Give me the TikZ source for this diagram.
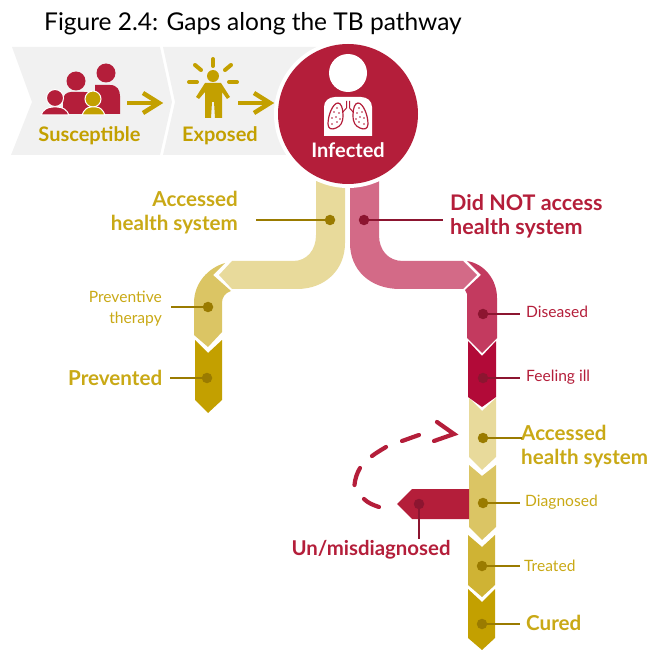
\documentclass[tikz,border=0pt]{standalone}
\usepackage{fontspec}
\setmainfont{Lato}
\definecolor{gold}{HTML}{C3A000}
\definecolor{golddk}{HTML}{9A7B00}
\definecolor{txtgold}{HTML}{C9A916}
\definecolor{pale}{HTML}{E8DA9B}
\definecolor{midgold}{HTML}{DBC564}
\definecolor{treatgold}{HTML}{CFB334}
\definecolor{rd}{HTML}{B41E3A}
\definecolor{rddk}{HTML}{8C1530}
\definecolor{pink}{HTML}{D36A87}
\definecolor{dis}{HTML}{C33A5F}
\definecolor{ill}{HTML}{B20A38}
\definecolor{chev}{HTML}{F1F1F1}
\tikzset{
  dotg/.style={circle,fill=golddk,inner sep=0pt,minimum size=10.5pt},
  dotr/.style={circle,fill=rddk,inner sep=0pt,minimum size=10.5pt},
  leadg/.style={draw=golddk,line width=2pt},
  leadr/.style={draw=rddk,line width=2pt},
  goldb/.style={text=txtgold,font=\fontsize{20.6}{24}\selectfont\bfseries,inner sep=0pt},
  redb/.style={text=rd,font=\fontsize{20.4}{24}\selectfont\bfseries,inner sep=0pt},
  goldt/.style={text=txtgold,font=\fontsize{15.6}{21}\selectfont,inner sep=0pt},
  redt/.style={text=rd,font=\fontsize{15.6}{21}\selectfont,inner sep=0pt},
  garrow/.style={draw=gold,line width=4.5pt},
  ray/.style={draw=gold,line width=4pt,line cap=round},
  dashret/.style={draw=rd,line width=4.2pt,line cap=round},
}
\begin{document}
\begin{tikzpicture}[x=1pt,y=-1pt]
\useasboundingbox (0,0) rectangle (657,650);
% title
\node[inner sep=0pt,anchor=west,font=\fontsize{24.5}{28}\selectfont] (title) at (44,24) {Figure 2.4: Gaps along the TB pathway};
% chevrons
\fill[chev] (12,47) -- (160,47) -- (172,102) -- (160,155) -- (11,155) -- (32,102) -- cycle;
\fill[chev] (163,47) -- (320,47) -- (320,155) -- (163,155) -- (175,102) -- cycle;
% family icon
\fill[rd] (106,73) circle (9.5);
\fill[rd] (95,85) -- (110,85) .. controls (117,85) and (120,90) .. (120,96) -- (120,114) -- (95,114) -- cycle;
\fill[rd] (76,81) circle (9.5);
\fill[rd] (63,114) -- (63,100) .. controls (63,95) and (67,92) .. (71,92) -- (84,92) .. controls (92,92) and (96,97) .. (96,104) -- (96,114) -- cycle;
\fill[rd,draw=white,line width=1pt] (55,98) circle (8.5);
\fill[rd,draw=white,line width=1pt] (41,115) .. controls (43,110) and (47,107) .. (53,107) -- (57,107) .. controls (63,107) and (67,110) .. (69,115) -- cycle;
\fill[gold,draw=white,line width=1pt] (93,99) circle (8);
\fill[gold,draw=white,line width=1pt] (82,115) .. controls (84,110) and (87,107) .. (91,107) -- (96,107) .. controls (100,107) and (103,110) .. (105,115) -- cycle;
\draw[garrow] (127,103) -- (159,103);
\draw[garrow] (143,93) -- (159,103) -- (143,113);
% exposed icon
\fill[gold] (213,76) circle (6);
\fill[gold] (205,83) -- (221,83) -- (230,97) -- (227,99) -- (222,92) -- (222,118) -- (215,118) -- (214,102) -- (212,102) -- (211,118) -- (205,118) -- (205,92) -- (199,99) -- (196,97) -- cycle;
\draw[ray] (213,59) -- (213,66);
\draw[ray] (195,65) -- (201,70);
\draw[ray] (231,65) -- (225,70);
\draw[ray] (189,82) -- (197,82);
\draw[ray] (229,82) -- (237,82);
\draw[garrow] (238,103) -- (270,103);
\draw[garrow] (254,93) -- (270,103) -- (254,113);
\node[goldb,text=gold,anchor=center,font=\fontsize{20}{24}\selectfont\bfseries] (susc) at (89.5,136) {Susceptible};
\node[goldb,text=gold,anchor=center,font=\fontsize{20}{24}\selectfont\bfseries] (expo) at (220,135.5) {Exposed};
% left branch
\fill[pale] (316,170) -- (345,170) -- (345,243) .. controls (345,270) and (325,289) .. (297,289) -- (232,289) -- (219,275) -- (232,261) -- (293,261) .. controls (307,261) and (316,250) .. (316,235) -- cycle;
\fill[midgold] (225,263) -- (213,275) -- (231,291) .. controls (225,293) and (222,297) .. (222,303) -- (222,332) -- (208,347) -- (194,335) -- (194,303) .. controls (194,283) and (208,268) .. (225,263) -- cycle;
\fill[gold] (195,340) -- (208,353) -- (222,340) -- (222,400) -- (208,413) -- (195,400) -- cycle;
% right branch
\fill[pink] (350,170) -- (379,170) -- (379,235) .. controls (379,250) and (388,261) .. (403,261) -- (463,261) -- (477,275) -- (463,289) -- (400,289) .. controls (370,289) and (350,270) .. (350,243) -- cycle;
\fill[dis] (467,261) .. controls (485,264) and (497,280) .. (497,298) -- (497,338) -- (482,353) -- (467,338) -- (467,294) -- (465,290) -- (481,275) -- cycle;
\fill[ill] (468,341) -- (482,356) -- (496,341) -- (496,397) -- (482,407) -- (468,397) -- cycle;
\fill[pale] (469,398) -- (482,411) -- (496,398) -- (496,457) -- (482,470) -- (469,457) -- cycle;
\fill[midgold] (469,465) -- (482,476) -- (496,465) -- (496,527) -- (482,540) -- (469,527) -- cycle;
\fill[treatgold] (468,535) -- (482,547) -- (495,535) -- (495,585) -- (482,597) -- (468,585) -- cycle;
\fill[gold] (468,589) -- (482,602) -- (495,589) -- (495,638) -- (482,650) -- (468,638) -- cycle;
% misdiagnosed arrow
\fill[rd] (469,489) -- (412,489) -- (397,504) -- (412,519) -- (469,519) -- cycle;
% infected circle
\fill[white] (348,114) circle (74);
\fill[rd] (348,114) circle (70);
\fill[white] (348,73) circle (19);
\fill[white] (324,136) -- (324,107) .. controls (324,101) and (329,97) .. (335,97) -- (361,97) .. controls (367,97) and (372,101) .. (372,107) -- (372,136) -- cycle;
\foreach \s in {1,-1}{
\begin{scope}[shift={(348,0)},xscale=\s]
\draw[rd,line width=1pt] (-1.5,101) -- (-1.5,108) -- (-6,113);
\draw[rd,line width=1.2pt,fill=white] (-5,115) .. controls (-5,108) and (-7,103) .. (-10,103) .. controls (-15,103) and (-20,115) .. (-20,124) .. controls (-20,129) and (-16,130) .. (-12,128) .. controls (-8,126) and (-5,124) .. (-5,115) -- cycle;
\foreach \p/\q in {-11/108,-14/112,-9/113,-12/117,-16/118,-8/119,-11/122,-16/124}{
\fill[rd] (\p,\q) circle (0.9);}
\end{scope}}
\node[inner sep=0pt,text=white,font=\fontsize{20}{22}\selectfont\bfseries] (inf) at (348,150.5) {Infected};
% dashed return
\draw[dashret] (379,507) .. controls (373,505) and (368,503) .. (364,499);
\draw[dashret] (354.5,485) .. controls (355,479) and (357,473) .. (360,468);
\draw[dashret] (372,456) .. controls (376,453) and (381,450) .. (386,447);
\draw[dashret] (402,441) .. controls (408,439) and (413,437) .. (419,435);
\draw[dashret] (437,422) -- (454,434) -- (434,441);
% labels
\node[goldb,align=right,anchor=east] (l1) at (238,212.5) {Accessed\\health system};
\node[redb,font=\fontsize{21.5}{24}\selectfont\bfseries,align=left,anchor=west] (l2) at (450,216) {Did NOT access\\health system};
\node[goldt,align=right,anchor=east] (l3) at (162,308.5) {Preventive\\therapy};
\node[goldb,anchor=west] (l4) at (68,377.5) {Prevented};
\node[redt,anchor=west] (l5) at (526,311.5) {Diseased};
\node[redt,anchor=west] (l6) at (526,377) {Feeling ill};
\node[goldb,align=left,anchor=west] (l7) at (521,446.5) {Accessed\\health system};
\node[goldt,anchor=west] (l8) at (525,502) {Diagnosed};
\node[goldt,anchor=west] (l9) at (524,565.5) {Treated};
\node[goldb,anchor=west] (l10) at (526,623) {Cured};
\node[redb,anchor=center] (l11) at (371,550) {Un/misdiagnosed};
% dots
\node[dotg] (d1) at (330,220) {};
\node[dotr] (d2) at (364,220) {};
\node[dotg] (d3) at (208,307) {};
\node[dotg] (d4) at (207,378) {};
\node[dotr] (d5) at (483,314) {};
\node[dotr] (d6) at (483,378) {};
\node[dotg] (d7) at (483,438) {};
\node[dotg] (d8) at (483,503) {};
\node[dotg] (d9) at (482,566) {};
\node[dotg] (d10) at (482,624) {};
\node[dotr] (d11) at (419,504) {};
% leader ends
\coordinate (e1) at (256,220);
\coordinate (e2) at (443,220);
\coordinate (e3) at (171,307);
\coordinate (e4) at (170,378);
\coordinate (e5) at (520,314);
\coordinate (e6) at (520,378);
\coordinate (e7) at (522,438);
\coordinate (e8) at (520,503);
\coordinate (e9) at (520,566);
\coordinate (e10) at (520,624);
\coordinate (e11) at (419,539);
\draw[leadg] (d1.center) -- (e1);
\draw[leadr] (d2.center) -- (e2);
\draw[leadg] (d3.center) -- (e3);
\draw[leadg] (d4.center) -- (e4);
\draw[leadr] (d5.center) -- (e5);
\draw[leadr] (d6.center) -- (e6);
\draw[leadg] (d7.center) -- (e7);
\draw[leadg] (d8.center) -- (e8);
\draw[leadg] (d9.center) -- (e9);
\draw[leadg] (d10.center) -- (e10);
\draw[leadr] (d11.center) -- (e11);
\end{tikzpicture}
\end{document}
